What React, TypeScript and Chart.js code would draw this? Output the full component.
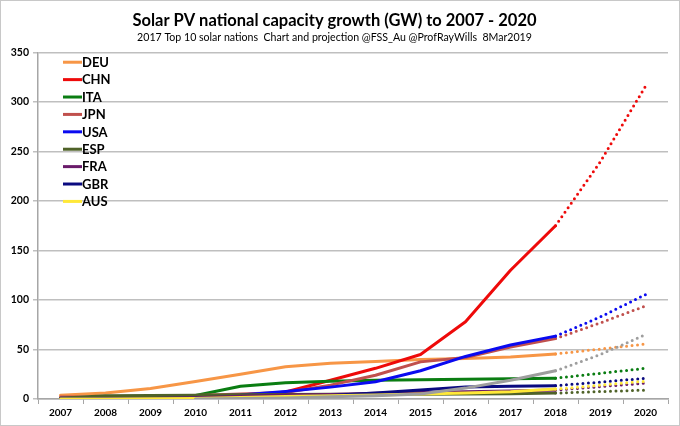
import { useEffect, useRef } from "react";
import { Chart, registerables } from "chart.js";

Chart.register(...registerables);

// years on the x axis
const years = [
  "2007", "2008", "2009", "2010", "2011", "2012", "2013",
  "2014", "2015", "2016", "2017", "2018", "2019", "2020",
];
// GW (2019 and 2020 are the projection)
const deu = [3.8, 6.1, 10.6, 17.6, 25, 32.5, 36, 38, 40, 41, 42.5, 45.5, 50.5, 55.5];
const chn = [0.1, 0.1, 0.3, 0.8, 3, 7, 19, 31, 45, 78, 130, 175, 240, 316];
const ita = [0.1, 0.5, 1.1, 3.5, 12.8, 16.5, 18, 19, 19.5, 20, 20.5, 21, 26, 31];
const jpn = [1.9, 2.1, 2.6, 3.6, 5, 6.6, 14, 24, 37.5, 42, 52.5, 61, 77, 94];
const usa = [0.8, 1.1, 1.6, 2.5, 4, 7.5, 12, 17.5, 28.5, 43, 54.5, 63.5, 83, 105.5];
const esp = [0.7, 3.4, 3.5, 3.9, 4.3, 4.6, 4.7, 4.8, 4.9, 5.1, 5.4, 6, 7.5, 9];
const fra = [0.1, 0.2, 0.4, 1.2, 2.9, 4, 4.6, 5.7, 6.6, 7.2, 8, 9, 12.5, 16];
const gbr = [0, 0, 0, 0.1, 1, 1.8, 3.5, 6, 9, 12, 13, 13.5, 17, 21];
const aus = [0.1, 0.1, 0.2, 0.6, 1.4, 2.4, 3.3, 4.1, 5, 6, 7.3, 10, 14, 18];
const ind = [null, null, null, 0.1, 0.5, 1, 2.3, 3.4, 5, 11, 19, 28.5, 45, 65];

const yTicks = [0, 50, 100, 150, 200, 250, 300, 350];

// last measured year; segments after it are dotted
const lastActual = 11;

const series = [
  { name: "DEU", data: deu, color: "#F79646", legend: true },
  { name: "CHN", data: chn, color: "#EE0A0A", legend: true },
  { name: "ITA", data: ita, color: "#0A7D12", legend: true },
  { name: "JPN", data: jpn, color: "#C0504D", legend: true },
  { name: "USA", data: usa, color: "#0A0AF0", legend: true },
  { name: "ESP", data: esp, color: "#4F6228", legend: true },
  { name: "FRA", data: fra, color: "#6A1B6A", legend: true },
  { name: "GBR", data: gbr, color: "#0A0A80", legend: true },
  { name: "AUS", data: aus, color: "#FFE838", legend: true },
  { name: "IND", data: ind, color: "#9E9E9E", legend: false },
];

const FONT = "Lato, 'Open Sans', sans-serif";

export default function App() {
  const canvasRef = useRef<HTMLCanvasElement>(null);

  useEffect(() => {
    if (!canvasRef.current) return;

    // legend drawn inside the plot, top-left, like the Excel original
    const insideLegend = {
      id: "insideLegend",
      afterDraw(chart: Chart) {
        const { ctx, chartArea } = chart;
        ctx.save();
        ctx.font = `bold 13px ${FONT}`;
        ctx.textBaseline = "middle";
        ctx.textAlign = "left";
        series
          .filter((s) => s.legend)
          .forEach((s, i) => {
            const y = chartArea.top + 9.7 + i * 17.4;
            ctx.strokeStyle = s.color;
            ctx.lineWidth = 3;
            ctx.lineCap = "butt";
            ctx.beginPath();
            ctx.moveTo(chartArea.left + 25, y);
            ctx.lineTo(chartArea.left + 44, y);
            ctx.stroke();
            ctx.fillStyle = "#000";
            ctx.fillText(s.name, chartArea.left + 44, y + 0.5);
          });
        ctx.restore();
      },
    };

    const chart = new Chart(canvasRef.current, {
      type: "line",
      data: {
        labels: years,
        datasets: series.map((s, i) => ({
          label: s.name,
          data: s.data,
          borderColor: s.color,
          backgroundColor: s.color,
          borderWidth: 3,
          borderCapStyle: "round",
          borderJoinStyle: "round",
          pointRadius: 0,
          tension: 0,
          order: -i,
          segment: {
            borderDash: (ctx: any) =>
              ctx.p0DataIndex >= lastActual ? [0, 5.5] : undefined,
          },
        })),
      },
      options: {
        animation: false,
        responsive: true,
        maintainAspectRatio: false,
        layout: { padding: { left: 0, right: 11, top: 0, bottom: 0 } },
        plugins: {
          legend: { display: false },
          tooltip: { enabled: false },
          title: {
            display: true,
            text: "Solar PV national capacity growth (GW) to 2007 - 2020",
            color: "#000",
            font: { family: FONT, size: 16.5, weight: "bold" },
            padding: { top: 10, bottom: 0 },
          },
          subtitle: {
            display: true,
            text: "2017 Top 10 solar nations  Chart and projection @FSS_Au @ProfRayWills  8Mar2019",
            color: "#000",
            font: { family: FONT, size: 10.6 },
            padding: { top: 0, bottom: 9 },
          },
        },
        scales: {
          x: {
            offset: true,
            afterFit: (s: any) => {
              s.height = 26;
            },
            grid: {
              offset: true,
              drawOnChartArea: false,
              drawTicks: true,
              tickLength: 5,
              color: "#A6A6A6",
            },
            border: { color: "#A6A6A6", width: 1.5 },
            ticks: {
              color: "#000",
              padding: 3,
              font: { family: FONT, size: 10, weight: "bold" },
              maxRotation: 0,
              autoSkip: false,
            },
          },
          y: {
            min: 0,
            max: 350,
            afterFit: (s: any) => {
              s.width = 37;
            },
            afterBuildTicks: (s: any) => {
              s.ticks = yTicks.map((v) => ({ value: v }));
            },
            grid: {
              color: "#BFBFBF",
              lineWidth: 1.5,
              tickLength: 5,
            },
            border: { color: "#A6A6A6", width: 1.5 },
            ticks: {
              color: "#000",
              padding: 4,
              font: { family: FONT, size: 10.5, weight: "bold" },
            },
          },
        },
      },
      plugins: [insideLegend],
    });

    return () => {
      chart.destroy();
    };
  }, []);

  return (
    <div
      style={{
        position: "fixed",
        left: 0,
        top: 0,
        width: 680,
        height: 426,
        boxSizing: "border-box",
        border: "1px solid #C8C8C8",
        background: "#fff",
      }}
    >
      <canvas ref={canvasRef}></canvas>
    </div>
  );
}
